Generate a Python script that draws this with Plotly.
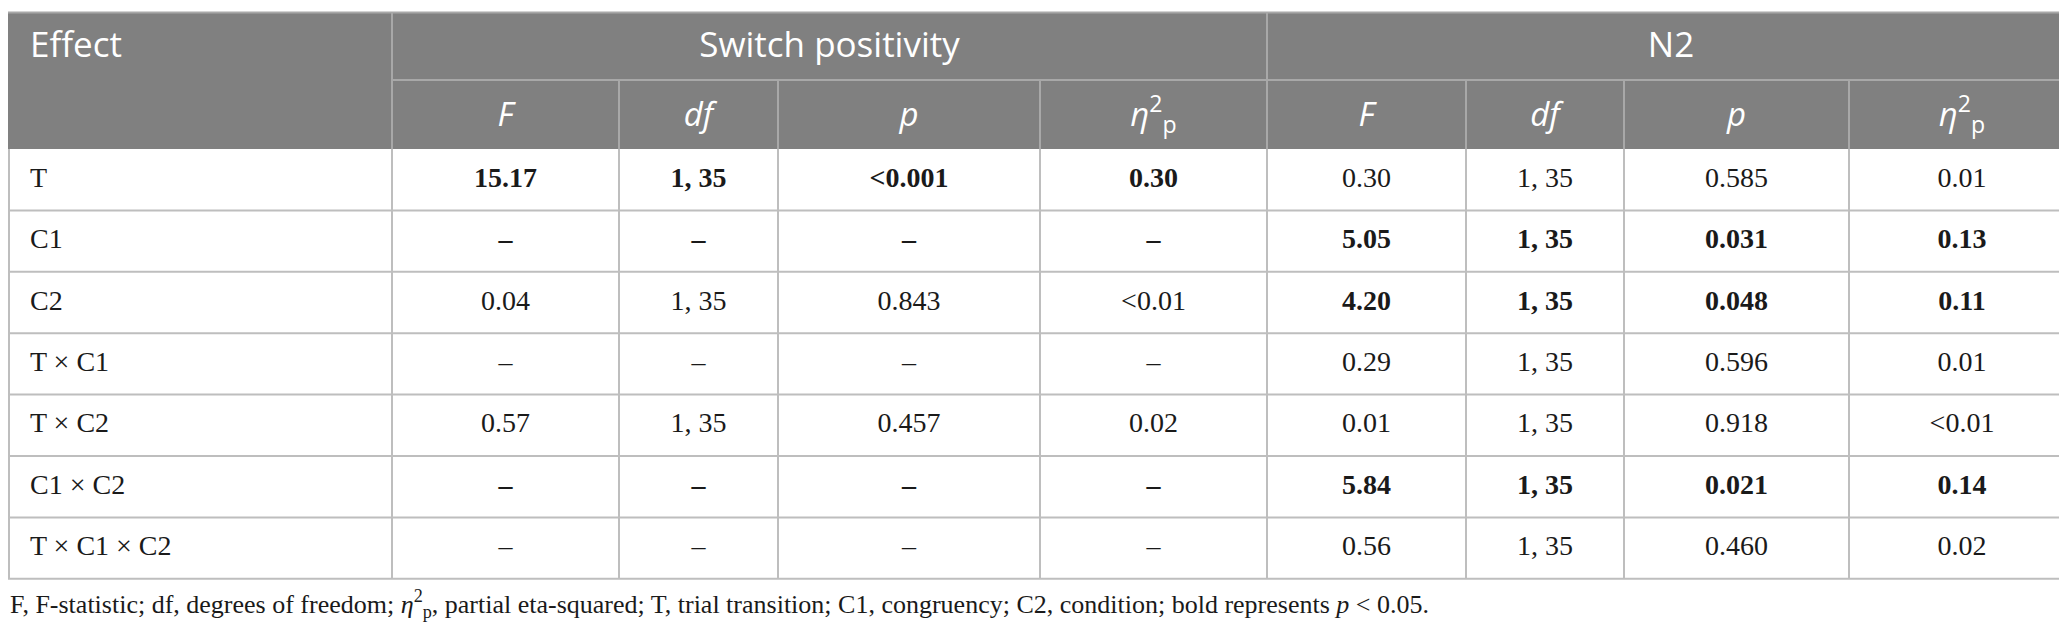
import numpy as np
import plotly.graph_objects as go

# table data
effects = ['T', 'C1', 'C2', 'T × C1', 'T × C2', 'C1 × C2', 'T × C1 × C2']

sw_F = ['15.17', '–', '0.04', '–', '0.57', '–', '–']
sw_df = ['1, 35', '–', '1, 35', '–', '1, 35', '–', '–']
sw_p = ['&lt;0.001', '–', '0.843', '–', '0.457', '–', '–']
sw_eta = ['0.30', '–', '&lt;0.01', '–', '0.02', '–', '–']

n2_F = ['0.30', '5.05', '4.20', '0.29', '0.01', '5.84', '0.56']
n2_df = ['1, 35', '1, 35', '1, 35', '1, 35', '1, 35', '1, 35', '1, 35']
n2_p = ['0.585', '0.031', '0.048', '0.596', '0.918', '0.021', '0.460']
n2_eta = ['0.01', '0.13', '0.11', '0.01', '&lt;0.01', '0.14', '0.02']

# rows printed in bold (p < 0.05)
bold_sw = [True, True, False, False, False, True, False]
bold_n2 = [False, True, True, False, False, True, False]

first_col = 'Effect'
groups = ['Switch positivity', 'N2']
stats = ['<i>F</i>', '<i>df</i>', '<i>p</i>', '<i>η</i><sup>2</sup><sub>p</sub>']

footnote = ('F, F-statistic; df, degrees of freedom; <i>η</i><sup>2</sup><sub>p</sub>, '
            'partial eta-squared; T, trial transition; C1, congruency; C2, condition; '
            'bold represents <i>p</i> &lt; 0.05.')

# layout (pixels)
W, H = 2067, 623
col_w = [384, 227, 159, 262, 227, 199, 158, 225, 226]
TOP, ROW1, HEAD = 4.5, 72, 141
ROW_H = 61.4
PAD = 22

HEAD_FILL = '#808080'
HEAD_LINE = '#a8a8a8'
BODY_LINE = '#bebebe'
TEXT = '#1a1a1a'
SANS = 'Open Sans'
SERIF = 'Liberation Serif'


def bolden(vals, flags):
    return ['<b>%s</b>' % v if f else v for v, f in zip(vals, flags)]


x_edges = np.concatenate([[0], np.cumsum(col_w)])
x_mid = (x_edges[:-1] + x_edges[1:]) / 2
n_rows = len(effects)
y_edges = HEAD + ROW_H * np.arange(n_rows + 1)
y_mid = (y_edges[:-1] + y_edges[1:]) / 2

body_cols = [effects]
for col in [sw_F, sw_df, sw_p, sw_eta]:
    body_cols.append(bolden(col, bold_sw))
for col in [n2_F, n2_df, n2_p, n2_eta]:
    body_cols.append(bolden(col, bold_n2))

fig = go.Figure()

# body cells
for i, col in enumerate(body_cols):
    if i == 0:
        xs, pos = [x_edges[0] + PAD] * n_rows, 'middle right'
    else:
        xs, pos = [x_mid[i]] * n_rows, 'middle center'
    fig.add_trace(go.Scatter(
        x=xs, y=y_mid, text=col, mode='text', textposition=pos,
        textfont=dict(family=SERIF, size=28, color=TEXT),
        hoverinfo='skip', showlegend=False,
    ))

# header row 1: Effect + group names
g_mid = [(x_edges[1] + x_edges[5]) / 2, (x_edges[5] + x_edges[9]) / 2]
fig.add_trace(go.Scatter(
    x=[x_edges[0] + PAD], y=[(TOP + ROW1) / 2 + 2], text=[first_col],
    mode='text', textposition='middle right',
    textfont=dict(family=SANS, size=35, color='white'),
    hoverinfo='skip', showlegend=False,
))
fig.add_trace(go.Scatter(
    x=g_mid, y=[(TOP + ROW1) / 2 + 2] * 2, text=groups,
    mode='text', textposition='middle center',
    textfont=dict(family=SANS, size=35, color='white'),
    hoverinfo='skip', showlegend=False,
))
# header row 2: statistics
fig.add_trace(go.Scatter(
    x=list(x_mid[1:]), y=[(ROW1 + HEAD) / 2 + 3] * 8, text=stats + stats,
    mode='text', textposition='middle center',
    textfont=dict(family=SANS, size=33, color='white'),
    hoverinfo='skip', showlegend=False,
))

# header background and grid lines
shapes = [dict(type='rect', x0=0, x1=W, y0=TOP, y1=HEAD, fillcolor=HEAD_FILL,
               line=dict(width=0), layer='below')]


def hline(y, x0, x1, color):
    shapes.append(dict(type='line', x0=x0, x1=x1, y0=y, y1=y,
                       line=dict(color=color, width=2)))


def vline(x, y0, y1, color):
    shapes.append(dict(type='line', x0=x, x1=x, y0=y0, y1=y1,
                       line=dict(color=color, width=2)))


hline(TOP, 0, W, HEAD_LINE)
hline(ROW1, x_edges[1], W, HEAD_LINE)
for k in [1, 5]:
    vline(x_edges[k], TOP, HEAD, HEAD_LINE)
for k in [2, 3, 4, 6, 7, 8]:
    vline(x_edges[k], ROW1, HEAD, HEAD_LINE)
for y in y_edges[1:]:
    hline(y, 0, W, BODY_LINE)
for k in range(1, len(col_w)):
    vline(x_edges[k], HEAD, y_edges[-1], BODY_LINE)
vline(1, HEAD, y_edges[-1], BODY_LINE)
vline(W - 1, HEAD, y_edges[-1], BODY_LINE)

fig.add_annotation(
    text=footnote, x=0, y=596, xref='x', yref='y',
    xanchor='left', yanchor='middle', showarrow=False,
    font=dict(family=SERIF, size=26, color=TEXT),
)

fig.update_layout(
    width=W, height=H,
    margin=dict(l=0, r=0, t=0, b=0),
    paper_bgcolor='white', plot_bgcolor='white',
    shapes=shapes,
    xaxis=dict(range=[0, W], visible=False, fixedrange=True),
    yaxis=dict(range=[H, 0], visible=False, fixedrange=True),
)

fig.write_html('out.html')
